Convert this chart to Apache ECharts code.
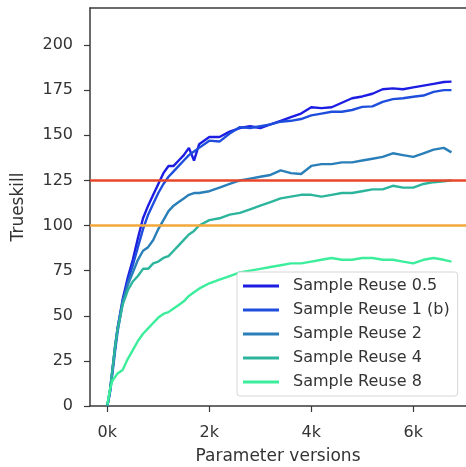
<!DOCTYPE html>
<html>
<head>
<meta charset="utf-8">
<script src="https://cdn.jsdelivr.net/npm/echarts@6/dist/echarts.min.js"></script>
<style>
  html, body { margin: 0; padding: 0; background: #fff; }
  #chart { width: 466px; height: 467px; }
</style>
</head>
<body>
<div id="chart"></div>
<script>
  // x: parameter versions
  var versions = [0, 50, 100, 150, 200, 300, 400, 500, 600, 700, 800, 900, 1000, 1100, 1200, 1300, 1400, 1500, 1600, 1700, 1800,
    2000, 2200, 2400, 2600, 2800, 3000, 3200, 3400, 3600, 3800, 4000, 4200, 4400, 4600, 4800, 5000, 5200, 5400, 5600, 5800,
    6000, 6200, 6400, 6600, 6750]

  // trueskill per run
  var reuse05 = [0, 8, 20, 32, 43, 59, 71, 81, 93, 104, 111, 117, 123, 129, 133, 133, 136, 139, 143, 136, 145,
    149, 149, 152, 154, 155, 154, 156, 158, 160, 162, 165.5, 165, 165.5, 168, 170.5, 171.5, 173, 175.5, 176, 175.5,
    176.5, 177.5, 178.5, 179.5, 179.7]
  var reuse1 = [0, 7, 18, 30, 41, 57, 69, 78, 88, 98, 106, 112, 118, 123, 127, 130, 133, 136, 139, 141, 143,
    147, 146.5, 151, 154.5, 154, 155, 156, 157.5, 158, 159, 161, 162, 163, 163, 164, 165.7, 166, 168.5, 170, 170.5,
    171.3, 172, 174, 175, 175]
  var reuse2 = [0, 8, 20, 33, 43, 58, 67, 74, 81, 86, 88, 92, 98, 103, 108, 111, 113, 115, 117, 118, 118,
    119, 121, 123, 125, 126, 127, 128, 130.5, 129, 128.5, 133, 134, 134, 135, 135, 136, 137, 138, 140, 139,
    138, 140, 142, 143, 140.5]
  var reuse4 = [0, 8, 20, 32, 42, 56, 64, 69, 72, 76, 76, 79, 80, 82, 83, 86, 89, 92, 95, 97, 100,
    103, 104, 106, 107, 109, 111, 113, 115, 116, 117, 117, 116, 117, 118, 118, 119, 120, 120, 122, 121,
    121, 123, 124, 124.5, 125]
  var reuse8 = [1, 9, 14, 16, 18, 20, 26, 31, 36, 40, 43, 46, 49, 51, 52, 54, 56, 58, 61, 63, 65,
    68, 70, 72, 74, 75, 76, 77, 78, 79, 79, 80, 81, 82, 81, 81, 82, 82, 81, 81, 80,
    79, 81, 82, 81, 80]

  var seriesNames = ['Sample Reuse 0.5', 'Sample Reuse 1 (b)', 'Sample Reuse 2', 'Sample Reuse 4', 'Sample Reuse 8']
  var seriesValues = [reuse05, reuse1, reuse2, reuse4, reuse8]

  var thresholds = [125, 100]
  var yTicks = [0, 25, 50, 75, 100, 125, 150, 175, 200]
  var xTicks = [0, 2000, 4000, 6000]

  // winter-ish palette
  var palette = ['#1c1ce2', '#1f4edc', '#2a7fb8', '#2cb59c', '#3cee9c']
  var font = 'DejaVu Sans'
  var axisColor = '#3a3a3a'

  var chart = echarts.init(document.getElementById('chart'))

  var series = seriesNames.map(function (name, i) {
    return {
      name: name,
      type: 'line',
      symbol: 'none',
      showSymbol: false,
      data: versions.map(function (v, j) { return [v, seriesValues[i][j]] }),
      lineStyle: { width: 2.4, color: palette[i] },
      itemStyle: { color: palette[i] }
    }
  })
  series.push({
    name: 'thresholds',
    type: 'line',
    data: [],
    silent: true,
    markLine: {
      symbol: 'none',
      silent: true,
      label: { show: false },
      animation: false,
      data: [
        { yAxis: thresholds[0], lineStyle: { color: '#e8462a', width: 2.5, type: 'solid' } },
        { yAxis: thresholds[1], lineStyle: { color: '#f3a83a', width: 2.5, type: 'solid' } }
      ]
    }
  })

  var option = {
    animation: false,
    backgroundColor: '#fff',
    grid: { left: 90, top: 8, right: 0, bottom: 61, outerBoundsMode: 'none', containLabel: false },
    legend: {
      data: seriesNames,
      orient: 'vertical',
      left: 237,
      top: 272,
      icon: 'rect',
      itemWidth: 36,
      itemHeight: 3,
      itemGap: 6,
      padding: [5, 8, 5, 6],
      backgroundColor: '#fff',
      borderColor: '#d6d6d6',
      borderWidth: 1,
      borderRadius: 3,
      textStyle: { fontSize: 16, color: '#333', fontFamily: font, lineHeight: 18, padding: [0, 0, 0, 9] }
    },
    xAxis: [{
      type: 'value',
      min: -340,
      max: 7035,
      axisLine: { show: true, onZero: false, lineStyle: { color: axisColor, width: 1.5 } },
      axisTick: { show: true, length: 6, customValues: xTicks, lineStyle: { color: axisColor, width: 1.2 } },
      axisLabel: {
        customValues: xTicks,
        formatter: function (v) { return (v / 1000) + 'k' },
        fontSize: 16, color: '#333', fontFamily: font, margin: 19
      },
      splitLine: { show: false },
      name: 'Parameter versions',
      nameLocation: 'middle',
      nameGap: 42,
      nameTextStyle: { fontSize: 17, color: '#333', fontFamily: font }
    }, {
      type: 'value',
      position: 'top',
      min: -340,
      max: 7035,
      axisLine: { show: true, onZero: false, lineStyle: { color: axisColor, width: 1.5 } },
      axisTick: { show: false },
      axisLabel: { show: false },
      splitLine: { show: false }
    }],
    yAxis: {
      type: 'value',
      min: 0,
      max: 220.5,
      axisLine: { show: true, onZero: false, lineStyle: { color: axisColor, width: 1.5 } },
      axisTick: { show: true, length: 6, customValues: yTicks, lineStyle: { color: axisColor, width: 1.2 } },
      axisLabel: { customValues: yTicks, fontSize: 16, color: '#333', fontFamily: font, margin: 17 },
      splitLine: { show: false },
      name: 'Trueskill',
      nameLocation: 'middle',
      nameGap: 63,
      nameTextStyle: { fontSize: 17, color: '#333', fontFamily: font }
    },
    series: series
  }

  chart.setOption(option)
</script>
</body>
</html>
